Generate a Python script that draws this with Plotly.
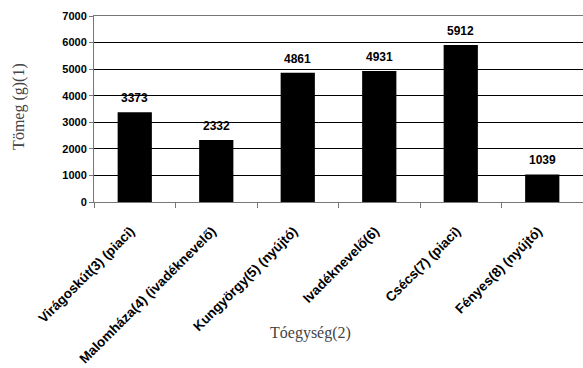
import plotly.graph_objects as go

# Pond units and their average weights (g)
categories = [
    "Virágoskút(3) (piaci)",
    "Malomháza(4) (ivadéknevelő)",
    "Kungyörgy(5) (nyújtó)",
    "Ivadéknevelő(6)",
    "Csécs(7) (piaci)",
    "Fényes(8) (nyújtó)",
]
weights = [3373, 2332, 4861, 4931, 5912, 1039]
y_ticks = [0, 1000, 2000, 3000, 4000, 5000, 6000, 7000]

sans = "Liberation Sans, Arial, sans-serif"
ytick_font = dict(family=sans, size=11, color="black")
xtick_font = dict(family=sans, size=13.5, color="black")
value_font = dict(family=sans, size=12, color="black")
serif_font = dict(family="Liberation Serif, Times New Roman, serif", size=16, color="#444444")

fig = go.Figure(
    go.Bar(
        x=categories,
        y=weights,
        marker=dict(color="black", line=dict(width=0)),
        hoverinfo="skip",
    )
)

# Value labels above the bars
for cat, w in zip(categories, weights):
    fig.add_annotation(
        x=cat, y=w, text=f"<b>{w}</b>", showarrow=False,
        yanchor="bottom", yshift=5, font=value_font,
    )

# Axis titles
fig.add_annotation(
    xref="paper", yref="paper", x=0.442, y=-0.704, text="Tóegység(2)",
    showarrow=False, font=serif_font, yanchor="middle",
)
fig.add_annotation(
    xref="paper", yref="paper", x=-0.152, y=0.515, text="Tömeg (g)(1)",
    showarrow=False, font=serif_font, textangle=-90, xanchor="center",
)

fig.update_layout(
    width=583, height=368,
    margin=dict(l=94, r=0, t=16, b=166, autoexpand=False),
    paper_bgcolor="white", plot_bgcolor="white",
    bargap=0.58, showlegend=False,
)
fig.update_xaxes(
    type="category",
    automargin=False,
    tickangle=-45,
    tickfont=xtick_font,
    ticktext=[f"<b>{c}</b>" for c in categories],
    tickvals=categories,
    tickson="boundaries",
    ticks="outside", ticklen=5, tickcolor="#777777",
    ticklabelstandoff=15, ticklabelshift=-4,
    showline=True, linecolor="#777777", linewidth=1, mirror=True,
    showgrid=False,
)
fig.update_yaxes(
    automargin=False,
    range=[0, 7000],
    tickvals=y_ticks,
    ticktext=[f"<b>{v}</b>" for v in y_ticks],
    tickfont=ytick_font,
    ticks="outside", ticklen=4, tickcolor="#777777",
    showline=True, linecolor="#777777", linewidth=1, mirror=True,
    showgrid=True, gridcolor="black", gridwidth=1,
    zeroline=False,
)

fig.write_html("out.html")
